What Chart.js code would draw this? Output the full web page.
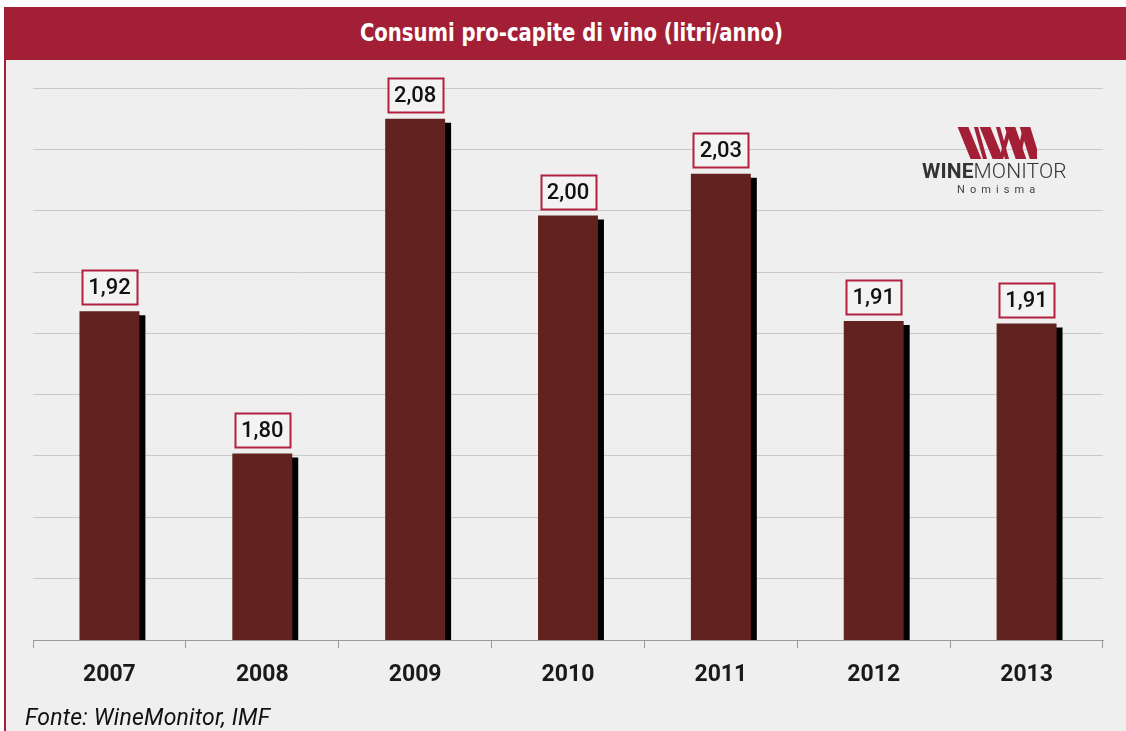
<!DOCTYPE html>
<html>
<head>
<meta charset="utf-8">
<script src="https://cdn.jsdelivr.net/npm/chart.js@4.4.1/dist/chart.umd.min.js"></script>
<style>
  html, body { margin: 0; padding: 0; background: #ffffff; }
  #wrap { position: relative; width: 1126px; height: 731px; overflow: hidden; }
  #titlebar { position: absolute; left: 4px; top: 7px; width: 1122px; height: 53px; background: #a31f36;
    color: #ffffff; font-family: "Liberation Sans Narrow", "DejaVu Sans Condensed", "Roboto", sans-serif;
    font-weight: bold; font-size: 24px; line-height: 53px; text-align: center; }
  #titlebar span { display: inline-block; position: relative; left: 6px; transform: scaleX(0.91); transform-origin: center; }
  #panel { position: absolute; left: 4px; top: 60px; width: 1122px; height: 671px; background: #efefef;
    border-left: 2px solid #a31f36; box-sizing: border-box; }
  #c { position: absolute; left: 0; top: 0; }
  #logo { position: absolute; left: 955px; top: 127px; }
  #logotxt { position: absolute; left: 922px; top: 159px; font-family: "Roboto", sans-serif; font-size: 21px;
    color: #333333; letter-spacing: 0.1px; white-space: nowrap; }
  #logotxt b { font-weight: bold; }
  #logotxt span { font-weight: 300; }
  #nomisma { position: absolute; left: 957px; top: 183px; font-family: "Roboto", sans-serif; font-size: 11px;
    color: #444444; letter-spacing: 5.1px; white-space: nowrap; }
  #source { position: absolute; left: 25px; top: 704px; font-family: "Roboto", sans-serif; font-style: italic;
    font-size: 23px; letter-spacing: 0.2px; color: #111111; white-space: nowrap; }
</style>
</head>
<body>
<div id="wrap">
  <div id="titlebar"><span id="titletext"></span></div>
  <div id="panel"></div>
  <canvas id="c" width="1126" height="731"></canvas>
  <svg id="logo" width="82" height="32" viewBox="0 0 82 32"></svg>
  <div id="logotxt"><b>WINE</b><span>MONITOR</span></div>
  <div id="nomisma">Nomisma</div>
  <div id="source"></div>
</div>
<script>
// ---- data ----
const titleText = "Consumi pro-capite di vino (litri/anno)";
const sourceText = "Fonte: WineMonitor, IMF";
const years = ["2007", "2008", "2009", "2010", "2011", "2012", "2013"];
const consumption = [1.918, 1.802, 2.075, 1.996, 2.030, 1.910, 1.908];
const valueLabels = ["1,92", "1,80", "2,08", "2,00", "2,03", "1,91", "1,91"];
const yMin = 1.65, yMax = 2.10, yStep = 0.05;

document.getElementById('titletext').textContent = titleText;
document.getElementById('source').textContent = sourceText;

// ---- logo stripes ----
(function () {
  const svg = document.getElementById('logo');
  const strokes = [
    [8, 21, 10], [21, 30, 4], [30, 43, 10], [43, 52, 4],
    [55, 46, 4], [55, 66, 10], [70, 63, 4], [70, 80, 10]
  ];
  strokes.forEach(([xt, xb, w]) => {
    const s = (xb - xt) / 32;
    const l = document.createElementNS('http://www.w3.org/2000/svg', 'line');
    l.setAttribute('x1', xt - 6 * s); l.setAttribute('y1', -6);
    l.setAttribute('x2', xb + 6 * s); l.setAttribute('y2', 38);
    l.setAttribute('stroke', '#a31f36'); l.setAttribute('stroke-width', w);
    svg.appendChild(l);
  });
})();

// ---- plugins ----
const shadowPlugin = {
  id: 'barShadow',
  beforeDatasetsDraw(chart) {
    const ctx = chart.ctx;
    ctx.save();
    ctx.shadowColor = '#000000';
    ctx.shadowOffsetX = 6;
    ctx.shadowOffsetY = 4;
    ctx.shadowBlur = 0;
  },
  afterDatasetsDraw(chart) {
    chart.ctx.restore();
  }
};

const labelPlugin = {
  id: 'boxLabels',
  afterDatasetsDraw(chart) {
    const ctx = chart.ctx;
    const meta = chart.getDatasetMeta(0);
    ctx.save();
    ctx.font = '500 22px Roboto, sans-serif';
    ctx.textAlign = 'center';
    ctx.textBaseline = 'middle';
    meta.data.forEach((bar, i) => {
      const txt = valueLabels[i];
      const w = Math.round(ctx.measureText(txt).width + 13);
      const h = 34;
      const bottom = bar.y - 7;
      const x0 = Math.round(bar.x - w / 2) + 0.5;
      const y0 = Math.round(bottom - h) + 0.5;
      ctx.fillStyle = '#f3f3f3';
      ctx.fillRect(x0, y0, w, h);
      ctx.lineWidth = 2;
      ctx.strokeStyle = '#b3203d';
      ctx.strokeRect(x0, y0, w, h);
      ctx.fillStyle = '#111111';
      ctx.fillText(txt, bar.x, y0 + h / 2 + 1);
    });
    ctx.restore();
  }
};

new Chart(document.getElementById('c'), {
  type: 'bar',
  data: {
    labels: years,
    datasets: [{
      data: consumption,
      backgroundColor: '#62221f',
      borderWidth: 0,
      barPercentage: 0.392,
      categoryPercentage: 1.0
    }]
  },
  options: {
    responsive: false,
    animation: false,
    devicePixelRatio: 1,
    layout: { padding: { left: 33, right: 23, top: 88, bottom: 0 } },
    plugins: { legend: { display: false }, tooltip: { enabled: false }, title: { display: false } },
    scales: {
      x: {
        grid: { display: true, drawOnChartArea: false, drawTicks: true, tickLength: 8, color: '#999999', offset: true },
        border: { display: true, color: '#999999', width: 1 },
        ticks: { color: '#1a1a1a', padding: 13, font: { family: 'Roboto', size: 23, weight: 'bold' } },
        afterFit(scale) { scale.height = 91; }
      },
      y: {
        min: yMin, max: yMax,
        ticks: { display: false, stepSize: yStep },
        grid: { color: '#c9c9c9', lineWidth: 1, drawTicks: false },
        border: { display: false },
        afterFit(scale) { scale.width = 0; }
      }
    }
  },
  plugins: [shadowPlugin, labelPlugin]
});
</script>
</body>
</html>
